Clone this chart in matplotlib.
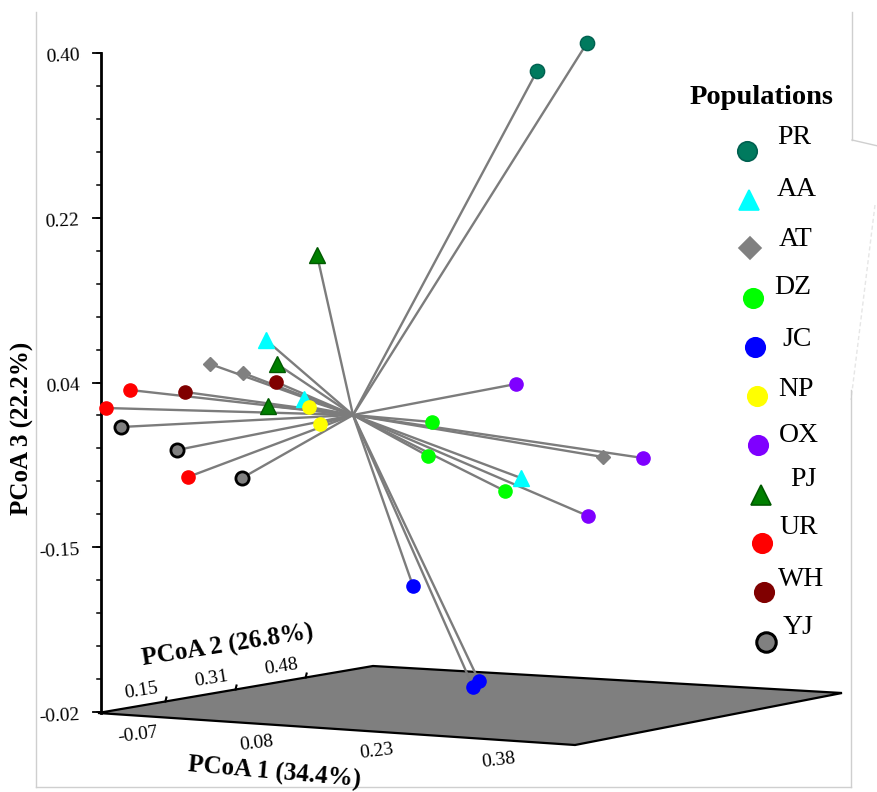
import numpy as np
import matplotlib
matplotlib.use('Agg')
import matplotlib.pyplot as plt
from matplotlib.patches import Polygon

plt.rcParams['font.family'] = ['Liberation Serif', 'DejaVu Serif']

#%% data: projected positions (picture pixels) of each individual, by population
pops = ['PR', 'AA', 'AT', 'DZ', 'JC', 'NP', 'OX', 'PJ', 'UR', 'WH', 'YJ']
colors = ['#007a5e', '#00ffff', '#808080', '#00ff00', '#0000ff', '#ffff00',
          '#7f00ff', '#007f00', '#ff0000', '#800000', '#808080']
edges = ['#006050', '#00ffff', '#808080', '#00ff00', '#0000ff', '#ffff00',
         '#7f00ff', '#005a00', '#ff0000', '#800000', '#000000']
markers = ['o', '^', 'D', 'o', 'o', 'o', 'o', '^', 'o', 'o', 'o']

PR_x = [537, 587];        PR_y = [71, 43]
AA_x = [266, 304, 521];   AA_y = [340, 399, 478]
AT_x = [210, 243, 603];   AT_y = [364, 373, 457]
DZ_x = [432, 428, 505];   DZ_y = [422, 456, 491]
JC_x = [413, 473, 479];   JC_y = [586, 687, 681]
NP_x = [309, 320];        NP_y = [407, 424]
OX_x = [516, 643, 588];   OX_y = [384, 458, 516]
PJ_x = [317, 277, 268];   PJ_y = [255, 364, 406]
UR_x = [130, 106, 188];   UR_y = [390, 408, 477]
WH_x = [185, 276];        WH_y = [392, 382]
YJ_x = [121, 177, 242];   YJ_y = [427, 450, 478]

pts_x = [PR_x, AA_x, AT_x, DZ_x, JC_x, NP_x, OX_x, PJ_x, UR_x, WH_x, YJ_x]
pts_y = [PR_y, AA_y, AT_y, DZ_y, JC_y, NP_y, OX_y, PJ_y, UR_y, WH_y, YJ_y]
centroid = (353, 415)

z_ticks = ['0.40', '0.22', '0.04', '-0.15', '-0.02']
y_ticks = ['0.15', '0.31', '0.48']          # PCoA 2
x_ticks = ['-0.07', '0.08', '0.23', '0.38']  # PCoA 1

#%% figure, one axes in pixel units
fig = plt.figure(figsize=(8.78, 7.92), dpi=100)
ax = fig.add_axes([0, 0, 1, 1])
ax.set_xlim(0, 878)
ax.set_ylim(792, 0)
ax.axis('off')

# faint frame of the original image
fc = '#cfcfcf'
ax.plot([36, 36], [12, 787], color=fc, lw=1)
ax.plot([36, 851], [787, 787], color=fc, lw=1)
ax.plot([852, 852], [12, 140], color=fc, lw=1)
ax.plot([852, 878], [140, 146], color=fc, lw=1)
ax.plot([875, 851], [205, 400], color='#e6e6e6', lw=1, ls=(0, (3, 2)))
ax.plot([851, 851], [390, 787], color=fc, lw=1)

# base plane
plane = Polygon([(98, 713), (373, 666), (842, 693), (575, 745)], closed=True,
                facecolor='#7f7f7f', edgecolor='black', lw=1.6, zorder=1)
ax.add_patch(plane)

# vertical axis PCoA 3
z_top, z_bot, zx = 53, 712, 101
ax.plot([zx, zx], [z_top, z_bot + 1], color='black', lw=2, zorder=2)
zpos = np.linspace(z_top, z_bot, len(z_ticks))
for lab, yy in zip(z_ticks, zpos):
    ax.plot([zx - 8, zx], [yy, yy], color='black', lw=1.3)
    ax.text(zx - 21, yy + 4, lab, ha='right', va='center', fontsize=14,
            rotation=3)
minor = np.linspace(z_top, z_bot, (len(z_ticks) - 1) * 5 + 1)
for yy in minor:
    ax.plot([zx - 4, zx], [yy, yy], color='black', lw=1.1)

# PCoA 2 ticks along back-left edge
p0 = np.array([98, 713]); p1 = np.array([373, 666])
for i, lab in enumerate(y_ticks):
    f = 0.245 + 0.255 * i
    q = p0 + f * (p1 - p0)
    ax.plot([q[0], q[0] + 1], [q[1], q[1] - 4], color='black', lw=1.5)
    ax.text(q[0] - 24, q[1] - 11, lab, ha='center', va='center',
            fontsize=14, rotation=9)
ax.text(228, 646, 'PCoA 2 (26.8%)', ha='center', va='center', fontsize=18,
        fontweight='bold', rotation=9)

# PCoA 1 labels along the front edge
x_lab_x = [138, 257, 377, 499]
x_lab_y = [735, 743, 751, 760]
for lab, xx, yy in zip(x_ticks, x_lab_x, x_lab_y):
    ax.text(xx, yy, lab, ha='center', va='center', fontsize=14, rotation=7)
ax.text(274, 773, 'PCoA 1 (34.4%)', ha='center', va='center', fontsize=18,
        fontweight='bold', rotation=-5)

ax.text(22, 428, 'PCoA 3 (22.2%)', ha='center', va='center', fontsize=18,
        fontweight='bold', rotation=90)

#%% star: lines from centroid to each individual
for xs, ys in zip(pts_x, pts_y):
    for x, y in zip(xs, ys):
        ax.plot([centroid[0], x], [centroid[1], y], color='#7c7c7c', lw=1.7,
                zorder=3)

sizes = {'o': 9.5, '^': 11, 'D': 7}
for p, xs, ys, c, e, m in zip(pops, pts_x, pts_y, colors, edges, markers):
    ms = sizes[m] + (0.8 if p == 'PR' else 0)
    mew = 2 if p == 'YJ' else 1
    ax.plot(xs, ys, ls='none', marker=m, ms=ms, mfc=c, mec=e, mew=mew,
            zorder=4)

#%% legend, drawn by hand
ax.text(762, 97, 'Populations', ha='center', va='center', fontsize=20.5,
        fontweight='bold')
leg_mx = [747, 749, 750, 753, 755, 757, 758, 761, 762, 764, 766]
leg_my = [151, 200, 248, 298, 347, 396, 445, 495, 543, 592, 642]
leg_tx = [777, 777, 779, 774, 782, 778, 779, 790, 779, 778, 783]
leg_ty = [138, 189, 239, 288, 340, 390, 436, 479, 528, 580, 628]
leg_sz = {'o': 14, '^': 15, 'D': 11}
for p, c, e, m, mx, my, tx, ty in zip(pops, colors, edges, markers,
                                      leg_mx, leg_my, leg_tx, leg_ty):
    mew = 2.2 if p == 'YJ' else 1.2
    ax.plot([mx], [my], ls='none', marker=m, ms=leg_sz[m], mfc=c, mec=e,
            mew=mew)
    ax.text(tx, ty, p, ha='left', va='center', fontsize=20)

fig.savefig('out.png', dpi=100)
